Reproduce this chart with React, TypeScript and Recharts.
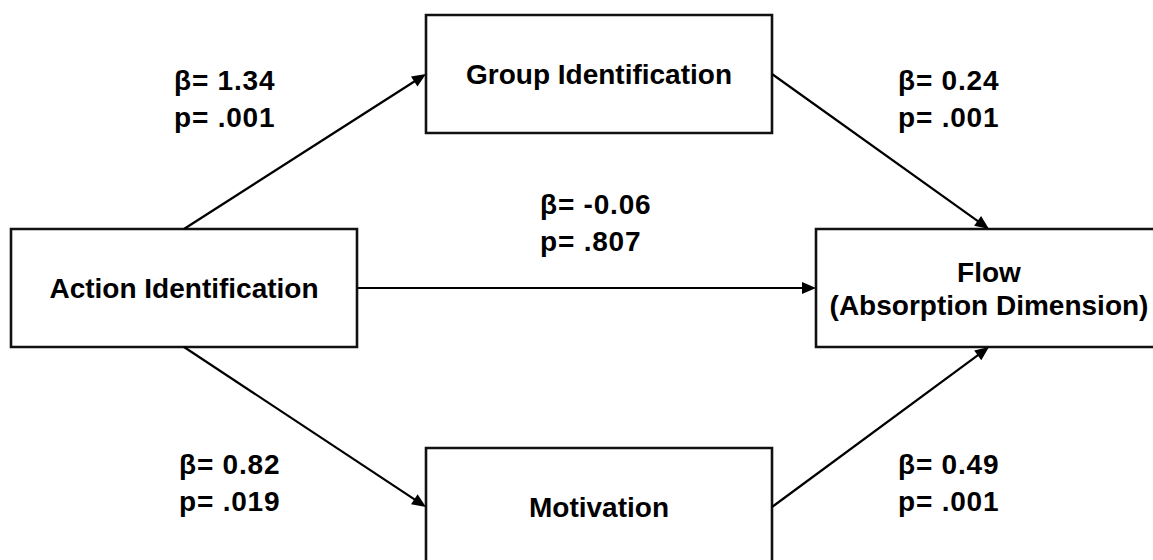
import React from "react";
import {
  ComposedChart,
  XAxis,
  YAxis,
  ReferenceArea,
  ReferenceLine,
  Scatter,
} from "recharts";

// path model
const variables = ["Action Identification", "Group Identification", "Motivation", "Flow"];
const variableSubtitles = ["", "", "", "(Absorption Dimension)"];
const pathFrom = [0, 0, 1, 2, 0];
const pathTo = [1, 2, 3, 3, 3];
const pathBeta = ["1.34", "0.82", "0.24", "0.49", "-0.06"];
const pathP = [".001", ".019", ".001", ".001", ".807"];

// layout (diagram units map 1:1 onto the canvas)
const W = 1153;
const H = 560;
const boxLayout = [
  { x1: 11, x2: 357, y1: 229, y2: 347 },
  { x1: 426, x2: 772, y1: 15, y2: 133 },
  { x1: 426, x2: 772, y1: 448, y2: 566 },
  { x1: 816, x2: 1162, y1: 229, y2: 347 },
];
const pathSides = [
  ["top", "left"],
  ["bottom", "left"],
  ["right", "top"],
  ["right", "bottom"],
  ["right", "left"],
];
const labelAnchor = [
  { x: 174, y: 90 },
  { x: 179, y: 474 },
  { x: 898, y: 90 },
  { x: 898, y: 474 },
  { x: 540, y: 214 },
];

const FONT = "'Liberation Sans', Arial, Helvetica, sans-serif";

type Box = { x1: number; x2: number; y1: number; y2: number };

const anchor = (b: Box, side: string) => {
  const cx = (b.x1 + b.x2) / 2;
  const cy = (b.y1 + b.y2) / 2;
  if (side === "top") return { x: cx, y: b.y1 };
  if (side === "bottom") return { x: cx, y: b.y2 };
  if (side === "left") return { x: b.x1, y: cy };
  return { x: b.x2, y: cy };
};

const nodeData = variables.map((name, i) => ({
  x: (boxLayout[i].x1 + boxLayout[i].x2) / 2,
  y: (boxLayout[i].y1 + boxLayout[i].y2) / 2,
  lines: variableSubtitles[i] ? [name, variableSubtitles[i]] : [name],
}));

const coefData = pathBeta.map((b, i) => ({
  x: labelAnchor[i].x,
  y: labelAnchor[i].y,
  beta: b,
  p: pathP[i],
}));

const segments = pathFrom.map((f, i) => [
  anchor(boxLayout[f], pathSides[i][0]),
  anchor(boxLayout[pathTo[i]], pathSides[i][1]),
]);

const Arrow = (props: any) => {
  const { x1, y1, x2, y2 } = props;
  const dx = x2 - x1;
  const dy = y2 - y1;
  const len = Math.hypot(dx, dy) || 1;
  const ux = dx / len;
  const uy = dy / len;
  const L = 14;
  const hw = 6;
  const bx = x2 - ux * L;
  const by = y2 - uy * L;
  return (
    <g>
      <line x1={x1} y1={y1} x2={bx + ux * 2} y2={by + uy * 2} stroke="#000" strokeWidth={2.2} />
      <polygon
        points={`${x2},${y2} ${bx - uy * hw},${by + ux * hw} ${bx + uy * hw},${by - ux * hw}`}
        fill="#000"
      />
    </g>
  );
};

const NodeLabel = (props: any) => {
  const { cx, cy, payload } = props;
  const lines: string[] = payload.lines;
  const n = lines.length;
  return (
    <text
      textAnchor="middle"
      fontFamily={FONT}
      fontWeight={700}
      fontSize={28}
      fill="#000"
    >
      {lines.map((t, i) => (
        <tspan key={i} x={cx} y={cy + 10 + (i - (n - 1) / 2) * 33}>
          {t}
        </tspan>
      ))}
    </text>
  );
};

const CoefLabel = (props: any) => {
  const { cx, cy, payload } = props;
  return (
    <text
      textAnchor="start"
      fontFamily={FONT}
      fontWeight={700}
      fontSize={28}
      letterSpacing={0.8}
      fill="#000"
    >
      <tspan x={cx} y={cy}>{`β= ${payload.beta}`}</tspan>
      <tspan x={cx} y={cy + 37}>{`p= ${payload.p}`}</tspan>
    </text>
  );
};

export default function App() {
  return (
    <div style={{ width: W, height: H, background: "#fff" }}>
      <style>{`body{margin:0;background:#fff}`}</style>
      <ComposedChart
        width={W}
        height={H}
        margin={{ top: 0, right: 0, bottom: 0, left: 0 }}
      >
        <XAxis type="number" dataKey="x" domain={[0, W]} hide allowDataOverflow />
        <YAxis type="number" dataKey="y" domain={[0, H]} reversed hide allowDataOverflow />
        {boxLayout.map((b, i) => (
          <ReferenceArea
            key={`box-${i}`}
            x1={b.x1}
            x2={b.x2}
            y1={b.y1}
            y2={b.y2}
            fill="none"
            stroke="#111"
            strokeWidth={2.6}
            ifOverflow="visible"
          />
        ))}
        {segments.map((s, i) => (
          <ReferenceLine
            key={`path-${i}`}
            segment={s}
            shape={Arrow}
            ifOverflow="visible"
          />
        ))}
        <Scatter data={nodeData} shape={NodeLabel} isAnimationActive={false} />
        <Scatter data={coefData} shape={CoefLabel} isAnimationActive={false} />
      </ComposedChart>
    </div>
  );
}
